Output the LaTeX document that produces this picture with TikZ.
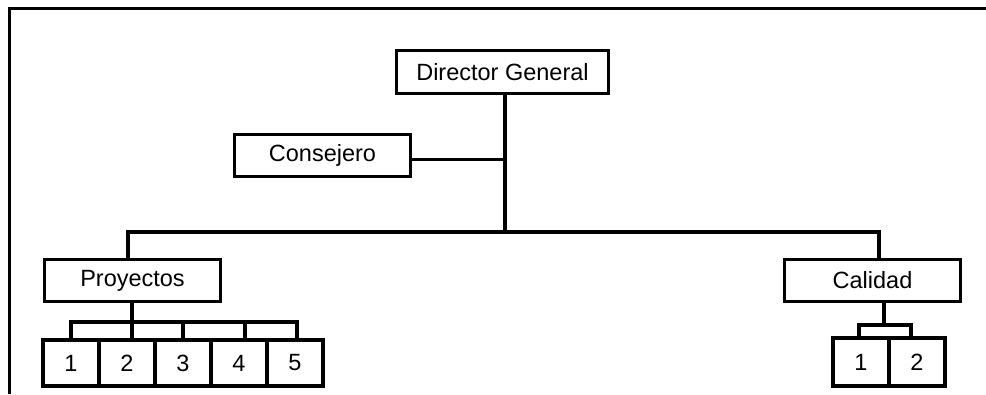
\documentclass[tikz,border=0pt]{standalone}
\usepackage{fontspec}
\setmainfont{Liberation Sans}
\begin{document}
\begin{tikzpicture}[x=1pt,y=-1pt,
  box/.style={draw,line width=3.5pt,inner sep=0pt,font=\fontsize{23.5}{27}\selectfont,anchor=center},
  small/.style={box,minimum width=56pt,minimum height=46pt},
  wire/.style={line width=3.5pt}]
\useasboundingbox (0,0) rectangle (986,394);
% frame
\draw[line width=3pt] (9,394) -- (9,8) -- (986,8);
% main boxes
\node[box,minimum width=212pt,minimum height=43pt] (dir) at (502.5,72) {Director General};
\node[box,minimum width=176pt,minimum height=42pt] (cons) at (322.5,155.5) {Consejero};
\node[box,minimum width=176pt,minimum height=42pt] (proy) at (132.5,280.5) {Proyectos};
\node[box,minimum width=176pt,minimum height=42pt] (cal) at (872.5,280.5) {Calidad};
% proyectos children
\node[small] (p1) at (71,363) {1};
\node[small] (p2) at (127,363) {2};
\node[small] (p3) at (183,363) {3};
\node[small] (p4) at (239,363) {4};
\node[small] (p5) at (295,363) {5};
% calidad children
\node[small,minimum height=48pt] (c1) at (861,362) {1};
\node[small,minimum height=48pt] (c2) at (917,362) {2};
% connectors
\coordinate (hub) at (505,232);
\coordinate (bl) at (128,232);
\coordinate (br) at (879,232);
\draw[wire] (dir.south -| hub) -- (hub);
\draw[wire] ([yshift=-4pt]cons.east) -- ([yshift=-4pt]cons.east -| hub);
\draw[wire] (proy.north -| bl) |- (br) -- (cal.north -| br);
% proyectos sub-bus
\coordinate (pb) at (132,322);
\draw[wire] (proy.south -| pb) -- (pb);
\draw[wire] (p1.north) |- (pb) -| ([xshift=2pt]p5.north);
\draw[wire] (pb) -- (p2.north -| pb);
\draw[wire] (p3.north) -- (p3.north |- pb);
\draw[wire] ([xshift=6pt]p4.north) -- ([xshift=6pt]p4.north |- pb);
% calidad sub-bus
\coordinate (cb) at (884,325);
\draw[wire] (cal.south -| cb) -- (cb);
\draw[wire] ([xshift=-2pt]c1.north) |- (cb) -| ([xshift=-6pt]c2.north);
\end{tikzpicture}
\end{document}
